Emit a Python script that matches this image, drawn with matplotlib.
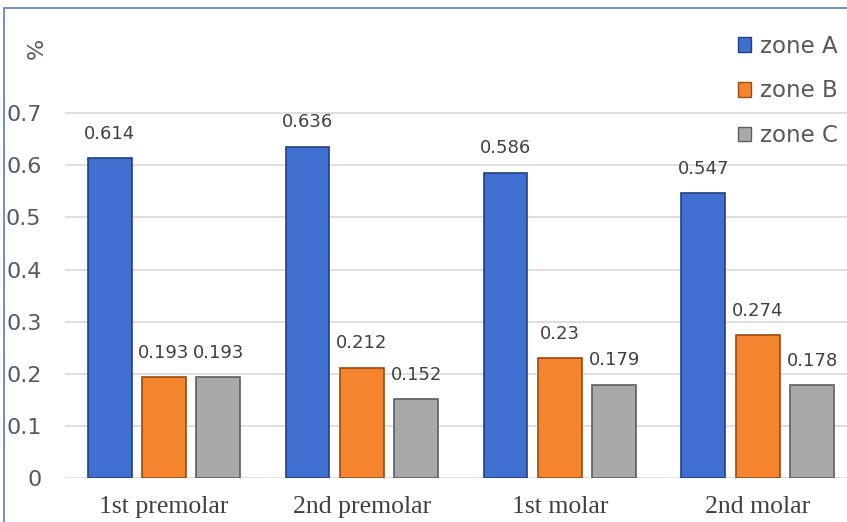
import numpy as np
import matplotlib.pyplot as plt
from matplotlib.patches import Patch, Rectangle

categories = ["1st premolar", "2nd premolar", "1st molar", "2nd molar"]
zone_a = [0.614, 0.636, 0.586, 0.547]
zone_b = [0.193, 0.212, 0.23, 0.274]
zone_c = [0.193, 0.152, 0.179, 0.178]
series = ["zone A", "zone B", "zone C"]
yticks = [0, 0.1, 0.2, 0.3, 0.4, 0.5, 0.6, 0.7]

colors = ["#3F6FD0", "#F4842E", "#A9A9A9"]
edges = ["#22407E", "#9A4A12", "#5E5E5E"]

fig = plt.figure(figsize=(8.47, 5.22), dpi=100)
ax = fig.add_axes([65 / 847, 1 - 478 / 522, 782 / 847, 396 / 522])

x = np.arange(len(categories))
w = 0.222
step = 0.275
for i, vals in enumerate([zone_a, zone_b, zone_c]):
    pos = x + (i - 1) * step
    ax.bar(pos, vals, width=w, color=colors[i], edgecolor=edges[i],
           linewidth=1.2, zorder=3)
    for p, v in zip(pos, vals):
        ax.annotate(f"{v:g}", (p, v), xytext=(0, 11), textcoords="offset points",
                    ha="center", va="bottom", fontsize=13, color="#404040")

ax.set_xlim(-0.5, 3.45)
ax.set_ylim(0, 0.76)
ax.set_yticks(yticks)
ax.set_yticklabels([f"{t:g}" for t in yticks], fontsize=16, color="#595959")
ax.set_xticks(x)
ax.set_xticklabels(categories, fontsize=18.5, color="#404040", family="Liberation Serif")
ax.tick_params(axis="y", length=0, pad=17)
ax.tick_params(axis="x", length=0, pad=13)
ax.grid(axis="y", color="#D9D9D9", linewidth=1.2, zorder=0)
for s in ax.spines.values():
    s.set_visible(False)

fig.text(37 / 847, 1 - 48 / 522, "%", rotation=90, ha="center", va="center",
         fontsize=16, color="#595959")

handles = [Patch(facecolor=c, edgecolor=e) for c, e in zip(colors, edges)]
fig.legend(handles, series, loc="upper right", bbox_to_anchor=(858 / 847, 1 - 14 / 522),
           frameon=False, fontsize=16.5, labelcolor="#595959", handlelength=0.6,
           handleheight=0.6, handletextpad=0.35, labelspacing=0.95)

fig.patches.append(Rectangle((4 / 847, -0.1), 1.2, 1 - 8 / 522 + 0.1,
                             transform=fig.transFigure, fill=False,
                             edgecolor="#5B7BC8", linewidth=1.2))

fig.savefig("out.png", dpi=100)
